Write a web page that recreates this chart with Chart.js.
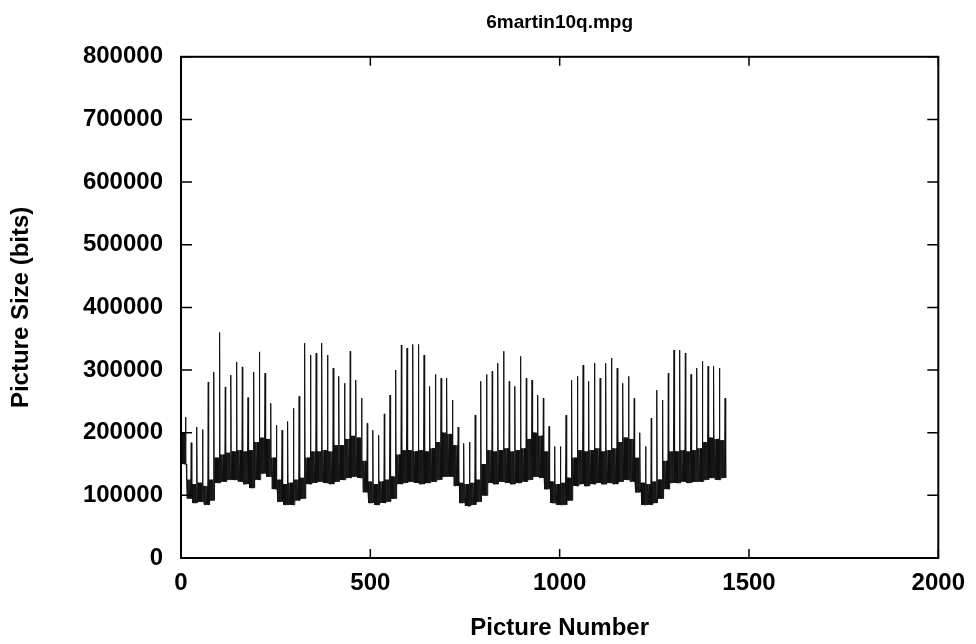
<!DOCTYPE html>
<html>
<head>
<meta charset="utf-8">
<script src="https://cdn.jsdelivr.net/npm/chart.js@4.4.1/dist/chart.umd.min.js"></script>
<style>
  html, body { margin: 0; padding: 0; background: #fff; }
  #wrap { width: 976px; height: 644px; }
</style>
</head>
<body>
<div id="wrap"><canvas id="sizeChart" width="976" height="644"></canvas></div>
<script>
// Picture sizes, one value per 15-picture GOP
const gopLength = 15;
const iOffset = 12;

// I-picture sizes (the thin spikes)
const iFrame = [
  225000, 184000, 209000, 205000, 281000, 297000, 360000, 273000, 292000, 313000, 305000, 256000,
  297000, 329000, 295000, 247000, 212000, 204000, 218000, 239000, 258000, 343000, 324000, 327000,
  343000, 324000, 303000, 290000, 279000, 330000, 284000, 255000, 215000, 204000, 196000, 230000,
  260000, 300000, 340000, 335000, 341000, 341000, 324000, 274000, 293000, 287000, 287000, 252000,
  209000, 183000, 185000, 228000, 282000, 293000, 298000, 311000, 330000, 282000, 274000, 322000,
  287000, 284000, 260000, 255000, 210000, 178000, 178000, 228000, 284000, 290000, 308000, 282000,
  311000, 287000, 311000, 319000, 303000, 279000, 290000, 255000, 200000, 178000, 223000, 268000,
  252000, 295000, 332000, 332000, 327000, 293000, 303000, 314000, 306000, 306000, 303000, 255000
];

// P-picture sizes (top of the dark band)
const pFrame = [
  200000, 125000, 118000, 120000, 115000, 125000, 160000, 165000, 168000, 170000, 172000, 170000,
  172000, 185000, 192000, 190000, 160000, 125000, 118000, 120000, 125000, 128000, 160000, 170000,
  170000, 172000, 170000, 180000, 180000, 190000, 195000, 192000, 155000, 122000, 118000, 122000,
  125000, 130000, 165000, 172000, 172000, 170000, 172000, 170000, 175000, 185000, 200000, 198000,
  180000, 120000, 118000, 120000, 125000, 150000, 172000, 170000, 172000, 175000, 170000, 172000,
  175000, 190000, 200000, 195000, 170000, 122000, 118000, 120000, 128000, 160000, 172000, 170000,
  172000, 175000, 170000, 172000, 175000, 185000, 192000, 190000, 160000, 120000, 118000, 122000,
  125000, 155000, 170000, 170000, 172000, 170000, 172000, 175000, 185000, 192000, 190000, 188000
];

// B-picture sizes (bottom of the dark band)
const bFrame = [
  150000, 95000, 88000, 90000, 85000, 92000, 120000, 122000, 125000, 125000, 122000, 118000,
  112000, 125000, 135000, 130000, 110000, 90000, 85000, 85000, 92000, 95000, 118000, 120000,
  122000, 120000, 118000, 122000, 125000, 128000, 130000, 128000, 105000, 88000, 85000, 88000,
  90000, 95000, 118000, 120000, 122000, 120000, 118000, 120000, 122000, 125000, 130000, 130000,
  115000, 88000, 83000, 85000, 90000, 100000, 120000, 118000, 122000, 120000, 118000, 120000,
  122000, 125000, 130000, 128000, 110000, 88000, 85000, 85000, 92000, 115000, 118000, 115000,
  118000, 120000, 118000, 120000, 118000, 122000, 125000, 122000, 105000, 85000, 85000, 88000,
  95000, 110000, 120000, 120000, 122000, 120000, 122000, 122000, 125000, 128000, 125000, 128000
];

const xTicks = [0, 500, 1000, 1500, 2000];
const yTicks = [0, 100000, 200000, 300000, 400000, 500000, 600000, 700000, 800000];

// expand GOP values into one point per picture (I B B P B B P ...)
const points = [];
iFrame.forEach((iv, g) => {
  for (let o = 0; o < gopLength; o++) {
    let v;
    if (o === iOffset) v = iv;
    else if (o % 3 === 0) v = pFrame[g];
    else v = bFrame[g];
    points.push({ x: g * gopLength + o, y: v });
  }
});

const axisFont = { family: "Liberation Sans, Arial, sans-serif", size: 24, weight: "bold" };

// gnuplot style box with inward ticks
const frameBox = {
  id: "frameBox",
  afterDraw(chart) {
    const { ctx, chartArea: a, scales } = chart;
    ctx.save();
    ctx.strokeStyle = "#000";
    ctx.lineWidth = 2;
    ctx.strokeRect(a.left, a.top, a.right - a.left, a.bottom - a.top);
    ctx.lineWidth = 1.5;
    ctx.beginPath();
    yTicks.forEach(v => {
      const py = scales.y.getPixelForValue(v);
      ctx.moveTo(a.left, py); ctx.lineTo(a.left + 11, py);
      ctx.moveTo(a.right, py); ctx.lineTo(a.right - 11, py);
    });
    xTicks.forEach(v => {
      const px = scales.x.getPixelForValue(v);
      ctx.moveTo(px, a.bottom); ctx.lineTo(px, a.bottom - 9);
      ctx.moveTo(px, a.top); ctx.lineTo(px, a.top + 9);
    });
    ctx.stroke();
    ctx.restore();
  }
};

new Chart(document.getElementById("sizeChart"), {
  type: "line",
  data: {
    datasets: [{
      data: points,
      borderColor: "#111",
      borderWidth: 1,
      pointRadius: 0,
      tension: 0,
      fill: false
    }]
  },
  options: {
    responsive: false,
    animation: false,
    events: [],
    layout: { padding: { left: 0, right: 28, top: 0, bottom: 0 } },
    plugins: {
      legend: { display: false },
      tooltip: { enabled: false },
      title: {
        display: true,
        text: "6martin10q.mpg",
        fullSize: false,
        color: "#000",
        font: { family: "Liberation Sans, Arial, sans-serif", size: 19, weight: "bold" },
        padding: { top: 11, bottom: 23 }
      }
    },
    scales: {
      x: {
        type: "linear",
        min: 0,
        max: 2000,
        grid: { display: false, drawTicks: false },
        border: { display: false },
        afterBuildTicks: s => { s.ticks = xTicks.map(v => ({ value: v })); },
        afterFit: s => { s.height = 86; },
        ticks: { color: "#000", font: axisFont, padding: 11, maxRotation: 0, callback: v => String(v) },
        title: { display: true, text: "Picture Number", color: "#000", font: axisFont, padding: { top: 0, bottom: 1 } }
      },
      y: {
        min: 0,
        max: 800000,
        grid: { display: false, drawTicks: false },
        border: { display: false },
        afterBuildTicks: s => { s.ticks = yTicks.map(v => ({ value: v })); },
        afterFit: s => { s.width = 181; },
        ticks: { color: "#000", font: axisFont, padding: 18, callback: v => String(v) },
        title: { display: true, text: "Picture Size (bits)", color: "#000", font: axisFont, padding: { top: 7, bottom: 0 } }
      }
    }
  },
  plugins: [frameBox]
});
</script>
</body>
</html>
